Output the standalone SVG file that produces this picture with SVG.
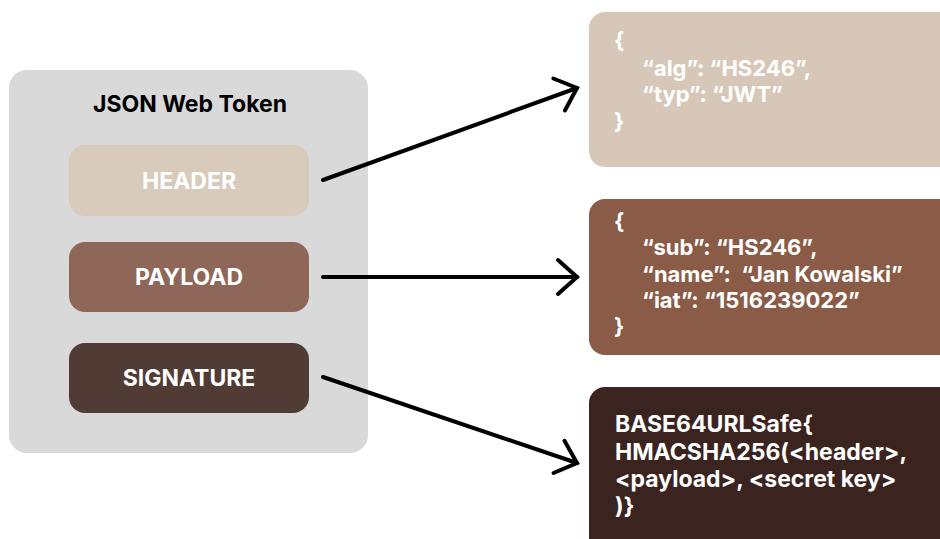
<svg xmlns="http://www.w3.org/2000/svg" width="940" height="539" viewBox="0 0 940 539">
<style>
.t{font-family:Inter,"Liberation Sans",sans-serif;font-weight:700;fill:#fff}
.lbl{font-size:23px;text-anchor:middle}
.code{font-size:22px;white-space:pre}
.sig{font-size:23px}
.conn{stroke:#000;stroke-width:4;fill:none;stroke-linecap:round}
</style>
<defs>
<marker id="arr" markerUnits="userSpaceOnUse" markerWidth="40" markerHeight="40" refX="0" refY="0" orient="auto" overflow="visible">
<path d="M-19,-17 L0,0 L-19,17" fill="none" stroke="#000" stroke-width="4" stroke-linecap="round" stroke-linejoin="miter"/>
</marker>
</defs>
<rect width="940" height="539" fill="#fff"/>
<g id="jwt">
<rect x="9" y="70" width="359" height="383" rx="18" fill="#d9d9d9"/>
<text x="190" y="112" font-family="Inter,'Liberation Sans',sans-serif" font-weight="700" font-size="23" fill="#000" text-anchor="middle">JSON Web Token</text>
</g>
<g id="header">
<rect x="69" y="145" width="240" height="71" rx="16" fill="#d8cbbc"/>
<text class="t lbl" x="189" y="189">HEADER</text>
</g>
<g id="payload">
<rect x="69" y="242" width="240" height="70" rx="16" fill="#8e6758"/>
<text class="t lbl" x="189" y="285">PAYLOAD</text>
</g>
<g id="signature">
<rect x="69" y="343" width="240" height="70" rx="16" fill="#513b35"/>
<text class="t lbl" x="189" y="386">SIGNATURE</text>
</g>
<g id="header-json">
<rect x="589" y="12" width="370" height="155" rx="16" fill="#d7c7b8"/>
<text class="t code" x="614" y="48">{</text>
<text class="t code" x="642" y="76">“alg”: “HS246”,</text>
<text class="t code" x="642" y="102">“typ”: “JWT”</text>
<text class="t code" x="614" y="129">}</text>
</g>
<g id="payload-json">
<rect x="589" y="199" width="370" height="156" rx="16" fill="#8a5b46"/>
<text class="t code" x="614" y="229">{</text>
<text class="t code" x="642" y="255">“sub”: “HS246”,</text>
<text class="t code" x="642" y="282" xml:space="preserve">“name”:  “Jan Kowalski”</text>
<text class="t code" x="642" y="308">“iat”: “1516239022”</text>
<text class="t code" x="614" y="334">}</text>
</g>
<g id="signature-formula">
<rect x="589" y="387" width="370" height="180" rx="16" fill="#3b241f"/>
<text class="t sig" x="615" y="432">BASE64URLSafe{</text>
<text class="t sig" x="615" y="460">HMACSHA256(&lt;header&gt;,</text>
<text class="t sig" x="615" y="487">&lt;payload&gt;, &lt;secret key&gt;</text>
<text class="t sig" x="615" y="514">)}</text>
</g>
<g id="connectors">
<line class="conn" x1="323" y1="180" x2="577" y2="88" marker-end="url(#arr)"/>
<line class="conn" x1="323" y1="277" x2="577" y2="277" marker-end="url(#arr)"/>
<line class="conn" x1="323" y1="377" x2="577" y2="463" marker-end="url(#arr)"/>
</g>
</svg>
